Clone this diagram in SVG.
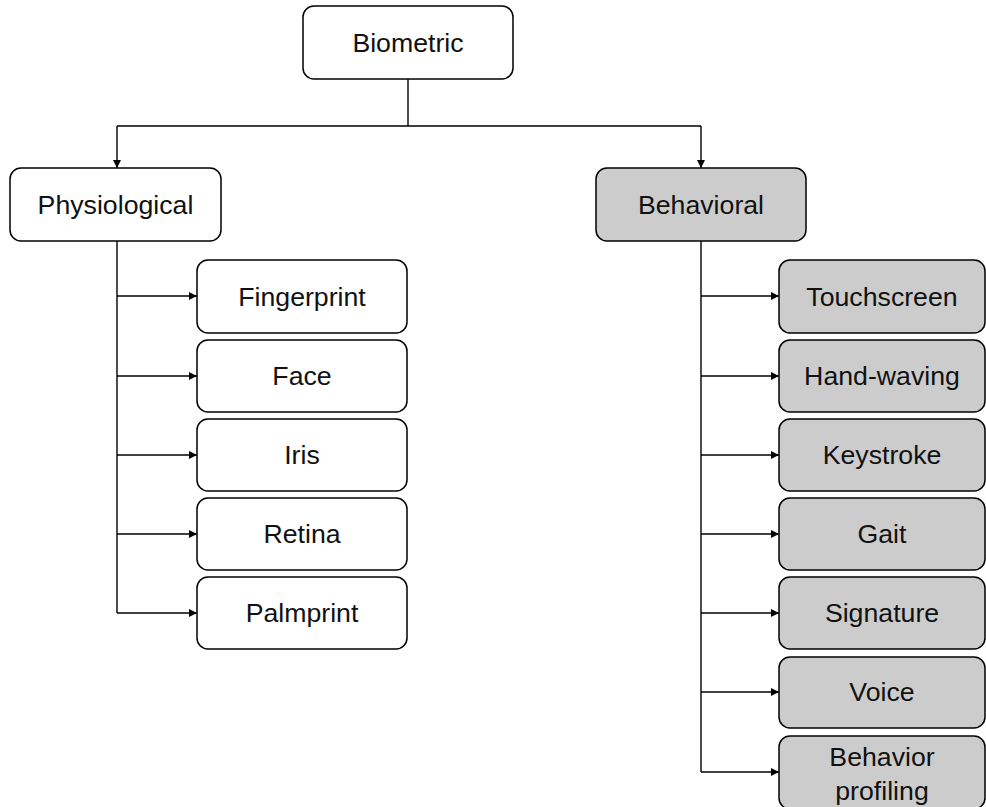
<svg xmlns="http://www.w3.org/2000/svg" width="986" height="807" viewBox="0 0 986 807">
<style>
.n rect{stroke:#000;stroke-width:1.5;}
.w rect{fill:#fff;}
.g rect{fill:#cccccc;}
text{font-family:"Liberation Sans",Arial,sans-serif;font-size:26.7px;fill:#111;text-anchor:middle;}
.c{fill:none;stroke:#000;stroke-width:1.4;}
</style>
<defs>
<marker id="ah" viewBox="0 0 10 10" refX="10" refY="5" markerWidth="10" markerHeight="8" markerUnits="userSpaceOnUse" orient="auto">
<path d="M0,0 L10,5 L0,10 z" fill="#000"/>
</marker>
</defs>
<rect width="986" height="807" fill="#fff"/>
<g id="connectors">
<path class="c" d="M408,79 V126"/>
<path class="c" d="M117,126 H701"/>
<path class="c" d="M117,126 V168" marker-end="url(#ah)"/>
<path class="c" d="M701,126 V168" marker-end="url(#ah)"/>
<path class="c" d="M117,241 V613"/>
<path class="c" d="M117,296 H197" marker-end="url(#ah)"/>
<path class="c" d="M117,376 H197" marker-end="url(#ah)"/>
<path class="c" d="M117,455 H197" marker-end="url(#ah)"/>
<path class="c" d="M117,534 H197" marker-end="url(#ah)"/>
<path class="c" d="M117,613 H197" marker-end="url(#ah)"/>
<path class="c" d="M701,241 V772"/>
<path class="c" d="M701,296 H779" marker-end="url(#ah)"/>
<path class="c" d="M701,376 H779" marker-end="url(#ah)"/>
<path class="c" d="M701,455 H779" marker-end="url(#ah)"/>
<path class="c" d="M701,534 H779" marker-end="url(#ah)"/>
<path class="c" d="M701,613 H779" marker-end="url(#ah)"/>
<path class="c" d="M701,692 H779" marker-end="url(#ah)"/>
<path class="c" d="M701,772 H779" marker-end="url(#ah)"/>
</g>
<g id="biometric" class="n w"><rect x="303" y="6" width="210" height="73" rx="11"/><text x="408" y="52">Biometric</text></g>
<g id="physiological" class="n w"><rect x="10" y="168" width="211" height="73" rx="11"/><text x="115.5" y="214">Physiological</text></g>
<g id="behavioral" class="n g"><rect x="596" y="168" width="210" height="73" rx="11"/><text x="701" y="214">Behavioral</text></g>
<g id="fingerprint" class="n w"><rect x="197" y="260" width="210" height="73" rx="11"/><text x="302" y="306">Fingerprint</text></g>
<g id="face" class="n w"><rect x="197" y="340" width="210" height="72" rx="11"/><text x="302" y="385">Face</text></g>
<g id="iris" class="n w"><rect x="197" y="419" width="210" height="72" rx="11"/><text x="302" y="464">Iris</text></g>
<g id="retina" class="n w"><rect x="197" y="498" width="210" height="72" rx="11"/><text x="302" y="543">Retina</text></g>
<g id="palmprint" class="n w"><rect x="197" y="577" width="210" height="72" rx="11"/><text x="302" y="622">Palmprint</text></g>
<g id="touchscreen" class="n g"><rect x="779" y="260" width="206" height="73" rx="11"/><text x="882" y="306">Touchscreen</text></g>
<g id="hand-waving" class="n g"><rect x="779" y="340" width="206" height="72" rx="11"/><text x="882" y="385">Hand-waving</text></g>
<g id="keystroke" class="n g"><rect x="779" y="419" width="206" height="72" rx="11"/><text x="882" y="464">Keystroke</text></g>
<g id="gait" class="n g"><rect x="779" y="498" width="206" height="72" rx="11"/><text x="882" y="543">Gait</text></g>
<g id="signature" class="n g"><rect x="779" y="577" width="206" height="72" rx="11"/><text x="882" y="622">Signature</text></g>
<g id="voice" class="n g"><rect x="779" y="657" width="206" height="71" rx="11"/><text x="882" y="701">Voice</text></g>
<g id="behavior-profiling" class="n g"><rect x="779" y="736" width="206" height="73" rx="11"/><text x="882" y="766">Behavior</text><text x="882" y="800">profiling</text></g>
</svg>
